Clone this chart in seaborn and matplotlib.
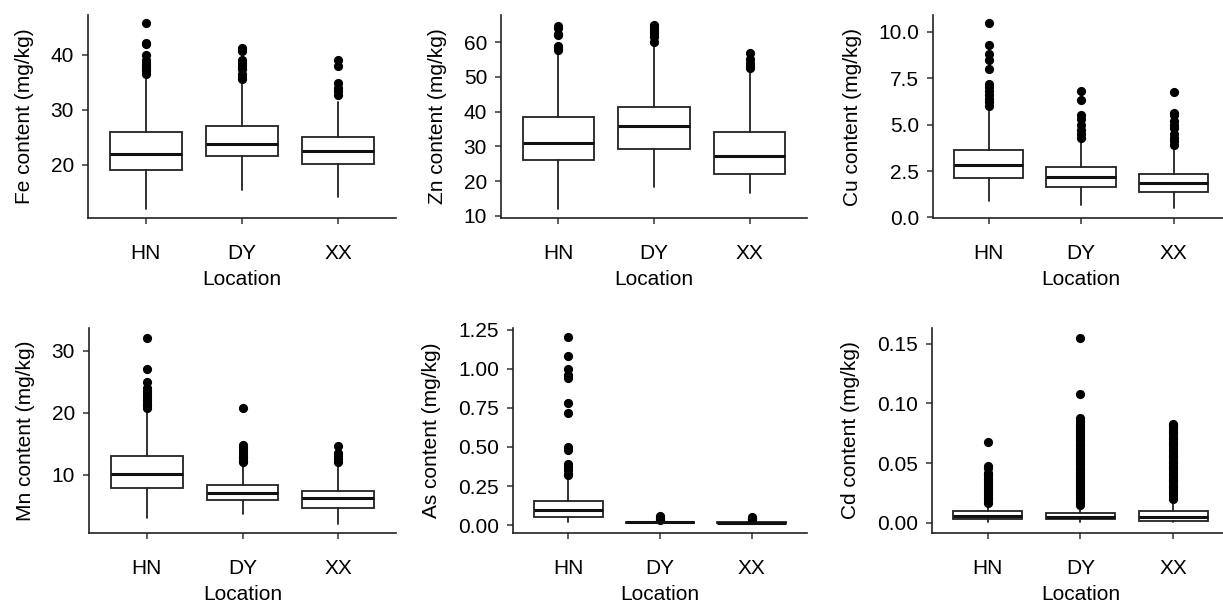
import matplotlib
matplotlib.use("Agg")
import matplotlib.pyplot as plt
import seaborn as sns
from matplotlib.ticker import MultipleLocator, FormatStrFormatter

locations = ["HN", "DY", "XX"]

# box stats per location: [lower whisker, q1, median, q3, upper whisker]
fe_box = [[11.9, 19.1, 22.0, 25.9, 36.0], [15.4, 21.6, 23.8, 27.0, 35.2], [14.2, 20.2, 22.4, 25.1, 31.4]]
fe_fliers = [[36.5, 37.0, 37.4, 37.8, 38.2, 38.6, 39.0, 40.0, 42.0, 42.2, 45.7],
             [35.6, 36.0, 36.5, 37.3, 38.0, 38.5, 39.0, 40.6, 41.0, 41.2],
             [32.7, 33.3, 34.0, 34.8, 38.0, 39.0]]

zn_box = [[11.9, 26.2, 31.0, 38.5, 57.0], [18.4, 29.3, 35.8, 41.4, 59.6], [16.5, 22.1, 27.3, 34.1, 52.0]]
zn_fliers = [[57.6, 58.0, 58.5, 59.0, 62.0, 62.4, 64.0, 64.7],
             [60.0, 61.5, 62.3, 63.0, 63.5, 64.0, 64.5, 65.0],
             [52.6, 53.0, 54.0, 55.0, 57.0]]

cu_box = [[0.9, 2.15, 2.85, 3.65, 5.9], [0.65, 1.65, 2.2, 2.7, 4.2], [0.5, 1.35, 1.85, 2.35, 3.85]]
cu_fliers = [[6.0, 6.2, 6.4, 6.6, 6.8, 7.0, 7.2, 8.0, 8.5, 8.8, 9.3, 10.45],
             [4.3, 4.5, 4.7, 5.0, 5.3, 5.5, 6.3, 6.8],
             [3.9, 4.1, 4.3, 4.5, 4.8, 5.0, 5.2, 5.5, 5.65, 6.75]]

mn_box = [[3.0, 7.9, 10.1, 13.1, 20.5], [3.6, 6.0, 7.1, 8.3, 11.8], [2.0, 4.7, 6.2, 7.4, 11.3]]
mn_fliers = [[20.8, 21.2, 21.6, 22.0, 22.5, 23.0, 23.5, 24.0, 25.0, 27.0, 32.1],
             [12.0, 12.3, 12.7, 13.0, 13.5, 14.0, 14.5, 14.8, 20.8],
             [12.0, 12.5, 13.0, 13.5, 14.7]]

as_box = [[0.02, 0.05, 0.10, 0.155, 0.30], [0.01, 0.017, 0.02, 0.023, 0.03], [0.008, 0.012, 0.016, 0.02, 0.028]]
as_fliers = [[0.32, 0.33, 0.35, 0.37, 0.39, 0.48, 0.50, 0.72, 0.78, 0.94, 0.96, 1.00, 1.08, 1.20],
             [0.035, 0.04, 0.05, 0.06],
             [0.032, 0.04, 0.045, 0.05]]

cd_box = [[0.001, 0.003, 0.006, 0.010, 0.016], [0.001, 0.003, 0.005, 0.008, 0.014], [0.001, 0.002, 0.005, 0.010, 0.019]]
cd_fliers = [[0.017, 0.019, 0.021, 0.023, 0.025, 0.027, 0.029, 0.031, 0.033, 0.035, 0.037, 0.039, 0.041, 0.042,
              0.046, 0.048, 0.068],
             [0.015, 0.017, 0.019, 0.021, 0.023, 0.025, 0.027, 0.029, 0.031, 0.033, 0.035, 0.037, 0.039, 0.041,
              0.043, 0.045, 0.047, 0.049, 0.051, 0.053, 0.055, 0.057, 0.059, 0.061, 0.063, 0.065, 0.067, 0.069,
              0.071, 0.073, 0.075, 0.077, 0.079, 0.081, 0.083, 0.085, 0.088, 0.108, 0.155],
             [0.020, 0.022, 0.024, 0.026, 0.028, 0.030, 0.032, 0.034, 0.036, 0.038, 0.040, 0.042, 0.044, 0.046,
              0.048, 0.050, 0.052, 0.054, 0.056, 0.058, 0.060, 0.062, 0.064, 0.066, 0.068, 0.070, 0.072, 0.074,
              0.076, 0.078, 0.080, 0.082, 0.083]]

# name, boxes, fliers, tick step, tick format, y limits, axes box in pixels (left, top, width, height)
panels = [
    ("Fe", fe_box, fe_fliers, 10, "%d", (10.3, 47.2), [88, 15, 308, 203]),
    ("Zn", zn_box, zn_fliers, 10, "%d", (9.4, 67.8), [501, 15, 306, 203]),
    ("Cu", cu_box, cu_fliers, 2.5, "%.1f", (-0.03, 10.9), [933, 15, 296, 203]),
    ("Mn", mn_box, mn_fliers, 10, "%d", (0.6, 33.7), [89, 328, 307, 205]),
    ("As", as_box, as_fliers, 0.25, "%.2f", (-0.05, 1.26), [513, 328, 294, 205]),
    ("Cd", cd_box, cd_fliers, 0.05, "%.2f", (-0.0084, 0.163), [932, 328, 297, 205]),
]

sns.set_style("ticks")
plt.rcParams['font.family'] = ['Liberation Sans', 'DejaVu Sans']
plt.rcParams['text.color'] = 'black'
plt.rcParams['axes.labelcolor'] = 'black'
plt.rcParams['xtick.labelcolor'] = 'black'
plt.rcParams['ytick.labelcolor'] = 'black'

W, H = 1223, 605
fig = plt.figure(figsize=(W / 100, H / 100), dpi=100)

for name, box, fliers, step, fmt, ylim, (x0, y0, w, h) in panels:
    ax = fig.add_axes([x0 / W, 1 - (y0 + h) / H, w / W, h / H])
    stats = []
    for loc, b, fl in zip(locations, box, fliers):
        stats.append(dict(label=loc, whislo=b[0], q1=b[1], med=b[2], q3=b[3], whishi=b[4], fliers=fl))
    ax.bxp(stats, positions=[1, 2, 3], widths=0.75, patch_artist=True, showcaps=False,
           boxprops=dict(facecolor="white", edgecolor="#222222", linewidth=1.3),
           medianprops=dict(color="#111111", linewidth=2.2),
           whiskerprops=dict(color="#222222", linewidth=1.3),
           flierprops=dict(marker="o", markerfacecolor="black", markeredgecolor="black", markersize=5.6))
    ax.set_xlim(0.4, 3.6)
    ax.set_ylim(*ylim)
    ax.yaxis.set_major_locator(MultipleLocator(step))
    ax.yaxis.set_major_formatter(FormatStrFormatter(fmt))
    ax.set_xlabel("Location", fontsize=15, labelpad=5)
    ax.set_ylabel(f"{name} content (mg/kg)", fontsize=15, labelpad=12)
    ax.tick_params(axis="x", labelsize=15, pad=15, length=4, width=1.1, color="#333333")
    ax.tick_params(axis="y", labelsize=15, pad=6, length=4, width=1.1, color="#333333")
    for s in ["left", "bottom"]:
        ax.spines[s].set_linewidth(1.2)
        ax.spines[s].set_color("#222222")
    sns.despine(ax=ax)

fig.savefig("out.png", dpi=100)
